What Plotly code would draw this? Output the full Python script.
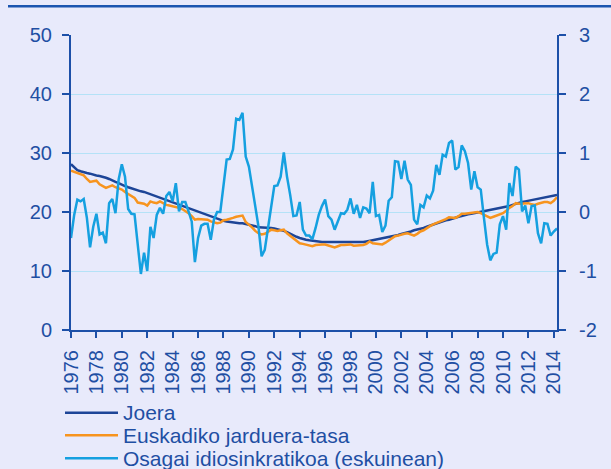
import plotly.graph_objects as go

# Quarterly series, 1976Q1 - 2014Q2
joera = [
    28.1, 27.6, 27.1, 26.9,  26.7, 26.6, 26.5, 26.3,  26.2, 26.1, 26.0, 25.8,
    25.6, 25.3, 25.1, 24.9,  24.6, 24.4, 24.2, 24.0,  23.8, 23.7, 23.5, 23.4,
    23.2, 23.0, 22.8, 22.7,  22.5, 22.3, 22.1, 21.9,  21.7, 21.5, 21.3, 21.1,
    20.9, 20.7, 20.5, 20.3,  20.1, 19.8, 19.6, 19.4,  19.2, 19.0, 18.8, 18.6,
    18.5, 18.4, 18.3, 18.2,  18.2, 18.1, 18.1, 18.0,  17.9, 17.7, 17.6, 17.4,
    17.4, 17.3, 17.3, 17.3,  17.2, 17.1, 17.0, 16.8,  16.6, 16.3, 16.0, 15.8,
    15.6, 15.4, 15.3, 15.2,  15.1, 15.0, 15.0, 14.9,  14.9, 14.9, 14.8, 14.8,
    14.8, 14.8, 14.8, 14.8,  14.8, 14.8, 14.8, 14.9,  14.9, 15.0, 15.1, 15.2,
    15.3, 15.4, 15.5, 15.6,  15.7, 15.8, 16.0, 16.1,  16.3, 16.4, 16.6, 16.7,
    16.9, 17.0, 17.2, 17.3,  17.5, 17.7, 17.9, 18.1,  18.3, 18.4, 18.6, 18.7,
    18.9, 19.0, 19.2, 19.3,  19.5, 19.6, 19.7, 19.8,  19.9, 20.0, 20.1, 20.2,
    20.3, 20.4, 20.5, 20.6,  20.8, 20.9, 21.0, 21.2,  21.4, 21.5, 21.7, 21.8,
    21.9, 22.0, 22.1, 22.2,  22.3, 22.4, 22.5, 22.7,  22.8, 22.9,
]

jarduera_tasa = [
    27.0, 26.8, 26.5, 26.4,  26.2, 25.6, 25.1, 25.2,  25.3, 24.7, 24.4, 24.1,
    24.3, 24.5, 24.2, 24.0,  23.8, 23.4, 23.1, 22.8,  22.4, 21.6, 21.5, 21.4,
    21.1, 21.8, 21.6, 21.5,  21.8, 21.5, 21.2, 21.1,  21.0, 20.9, 20.7, 20.5,
    20.2, 19.8, 19.3, 18.7,  18.8, 18.8, 18.7, 18.7,  18.4, 18.3, 18.1, 18.2,
    18.6, 18.7, 18.8, 19.0,  19.2, 19.3, 19.4, 18.3,  17.9, 17.4, 16.8, 16.4,
    16.2, 16.3, 16.6, 17.0,  16.9, 16.8, 16.9, 17.0,  16.4, 16.0, 15.5, 15.1,
    14.7, 14.6, 14.5, 14.3,  14.2, 14.4, 14.5, 14.5,  14.5, 14.3, 14.1, 14.0,
    14.2, 14.4, 14.4, 14.5,  14.5, 14.3, 14.3, 14.4,  14.4, 14.6, 15.0, 14.7,
    14.6, 14.6, 14.5, 14.8,  15.2, 15.5, 15.9, 16.0,  16.2, 16.3, 16.4, 16.2,
    16.0, 16.3, 16.7, 16.9,  17.3, 17.6, 17.9, 18.1,  18.3, 18.5, 18.8, 19.1,
    19.1, 19.0, 19.3, 19.7,  19.7, 19.8, 19.9, 20.0,  20.0, 19.8, 19.5, 19.2,
    19.0, 19.2, 19.4, 19.6,  19.8, 20.2, 20.7, 21.0,  21.5, 21.4, 21.4, 21.5,
    21.5, 21.3, 21.2, 21.4,  21.6, 21.7, 21.7, 21.5,  21.9, 22.5,
]

osagai_idiosinkratikoa = [
    -0.44, -0.05, 0.21, 0.18,   0.22, -0.10, -0.60, -0.25,  -0.03, -0.38, -0.35, -0.53,
    0.15, 0.22, -0.02, 0.55,    0.81, 0.60, 0.05, -0.03,   -0.04, -0.60, -1.05, -0.69,
    -1.00, -0.25, -0.44, -0.05,  0.07, -0.03, 0.27, 0.34,    0.18, 0.49, 0.01, 0.17,
    0.17, 0.01, -0.16, -0.85,   -0.44, -0.23, -0.20, -0.20,  -0.47, -0.13, 0.00, 0.00,
    0.41, 0.89, 0.90, 1.06,     1.58, 1.56, 1.68, 0.94,     0.77, 0.46, 0.10, -0.24,
    -0.75, -0.64, -0.30, 0.10,   0.44, 0.45, 0.60, 1.01,     0.60, 0.29, -0.07, -0.06,
    0.17, -0.30, -0.40, -0.40,  -0.46, -0.27, -0.05, 0.10,   0.21, -0.07, -0.13, -0.30,
    -0.16, -0.02, -0.03, 0.04,   0.23, -0.03, 0.12, -0.10,   0.08, 0.06, -0.02, 0.51,
    -0.07, -0.05, -0.34, -0.23,  0.19, 0.25, 0.86, 0.85,     0.56, 0.87, 0.55, 0.46,
    -0.13, -0.21, 0.12, 0.08,    0.28, 0.23, 0.36, 0.80,     0.63, 0.97, 0.94, 1.17,
    1.21, 0.72, 0.76, 1.13,     1.03, 0.83, 0.38, 0.69,     0.42, 0.38, -0.10, -0.55,
    -0.82, -0.71, -0.69, -0.21,  -0.07, -0.30, 0.49, 0.27,   0.77, 0.72, 0.01, 0.11,
    -0.19, 0.10, 0.11, -0.36,   -0.53, -0.19, -0.20, -0.40,  -0.33, -0.28,
]

year_ticks = list(range(1976, 2015, 2))
left_ticks = [0, 10, 20, 30, 40, 50]
right_ticks = [-2, -1, 0, 1, 2, 3]
start_year = 1976
quarters = [start_year + q / 4 for q in range(len(joera))]

names = ["Joera", "Euskadiko jarduera-tasa", "Osagai idiosinkratikoa (eskuinean)"]
colors = ["#1d4597", "#f7941e", "#15a0e0"]

BG = "#e8eafb"
AXIS = "#1c50a8"
TEXT = "#1f4fa3"
GRID = "#b4e2f7"
FONT = "Liberation Sans, Arial, sans-serif"

fig = go.Figure()
fig.add_trace(go.Scatter(x=quarters, y=joera, name=names[0], mode="lines",
                         line=dict(color=colors[0], width=2.5), yaxis="y"))
fig.add_trace(go.Scatter(x=quarters, y=jarduera_tasa, name=names[1], mode="lines",
                         line=dict(color=colors[1], width=2.5), yaxis="y"))
fig.add_trace(go.Scatter(x=quarters, y=osagai_idiosinkratikoa, name=names[2], mode="lines",
                         line=dict(color=colors[2], width=2.5), yaxis="y2"))

W, H = 611, 469
L, R, T, B = 71, 54, 35, 139
pw, ph = W - L - R, H - T - B


def px_x(x):
    return (x - L) / pw


def px_y(y):
    return (H - B - y) / ph


shapes = [
    # rule across the top of the page
    dict(type="line", xref="paper", yref="paper", x0=px_x(8), x1=px_x(611),
         y0=px_y(6.2), y1=px_y(6.2), line=dict(color="#1a55b0", width=2.5)),
]
annotations = []
legend_rows = [412.7, 435.3, 458.3]
for name, color, row in zip(names, colors, legend_rows):
    shapes.append(dict(type="line", xref="paper", yref="paper",
                       x0=px_x(65), x1=px_x(118), y0=px_y(row), y1=px_y(row),
                       line=dict(color=color, width=2.5)))
    annotations.append(dict(text=name, xref="paper", yref="paper",
                            x=px_x(121), y=px_y(row), xanchor="left", yanchor="middle",
                            showarrow=False, font=dict(size=21, color=TEXT, family=FONT)))

fig.update_layout(
    width=W, height=H,
    margin=dict(l=L, r=R, t=T, b=B),
    paper_bgcolor=BG, plot_bgcolor=BG,
    showlegend=False,
    font=dict(family=FONT, size=20, color=TEXT),
    shapes=shapes,
    annotations=annotations,
    xaxis=dict(
        range=[1976, 2014.25], tickmode="array", tickvals=year_ticks,
        ticktext=[str(y) for y in year_ticks], tickangle=-90,
        showline=True, linecolor=AXIS, linewidth=2,
        ticks="outside", ticklen=6, tickwidth=2, tickcolor=AXIS,
        showgrid=False, zeroline=False,
        tickfont=dict(size=20, color=TEXT, family=FONT),
        ticklabelstandoff=4,
    ),
    yaxis=dict(
        range=[0, 50], tickmode="array", tickvals=left_ticks,
        ticktext=[str(v) for v in left_ticks],
        showline=True, linecolor=AXIS, linewidth=2,
        ticks="outside", ticklen=7, tickwidth=2, tickcolor=AXIS,
        showgrid=True, gridcolor=GRID, gridwidth=1, zeroline=False,
        tickfont=dict(size=20, color=TEXT, family=FONT),
        ticklabelstandoff=6,
    ),
    yaxis2=dict(
        range=[-2, 3], tickmode="array", tickvals=right_ticks,
        ticktext=[str(v) for v in right_ticks],
        overlaying="y", side="right",
        showline=True, linecolor=AXIS, linewidth=2,
        ticks="outside", ticklen=7, tickwidth=2, tickcolor=AXIS,
        showgrid=False, zeroline=False,
        tickfont=dict(size=20, color=TEXT, family=FONT),
        ticklabelstandoff=9,
    ),
)

fig.write_html("out.html")
